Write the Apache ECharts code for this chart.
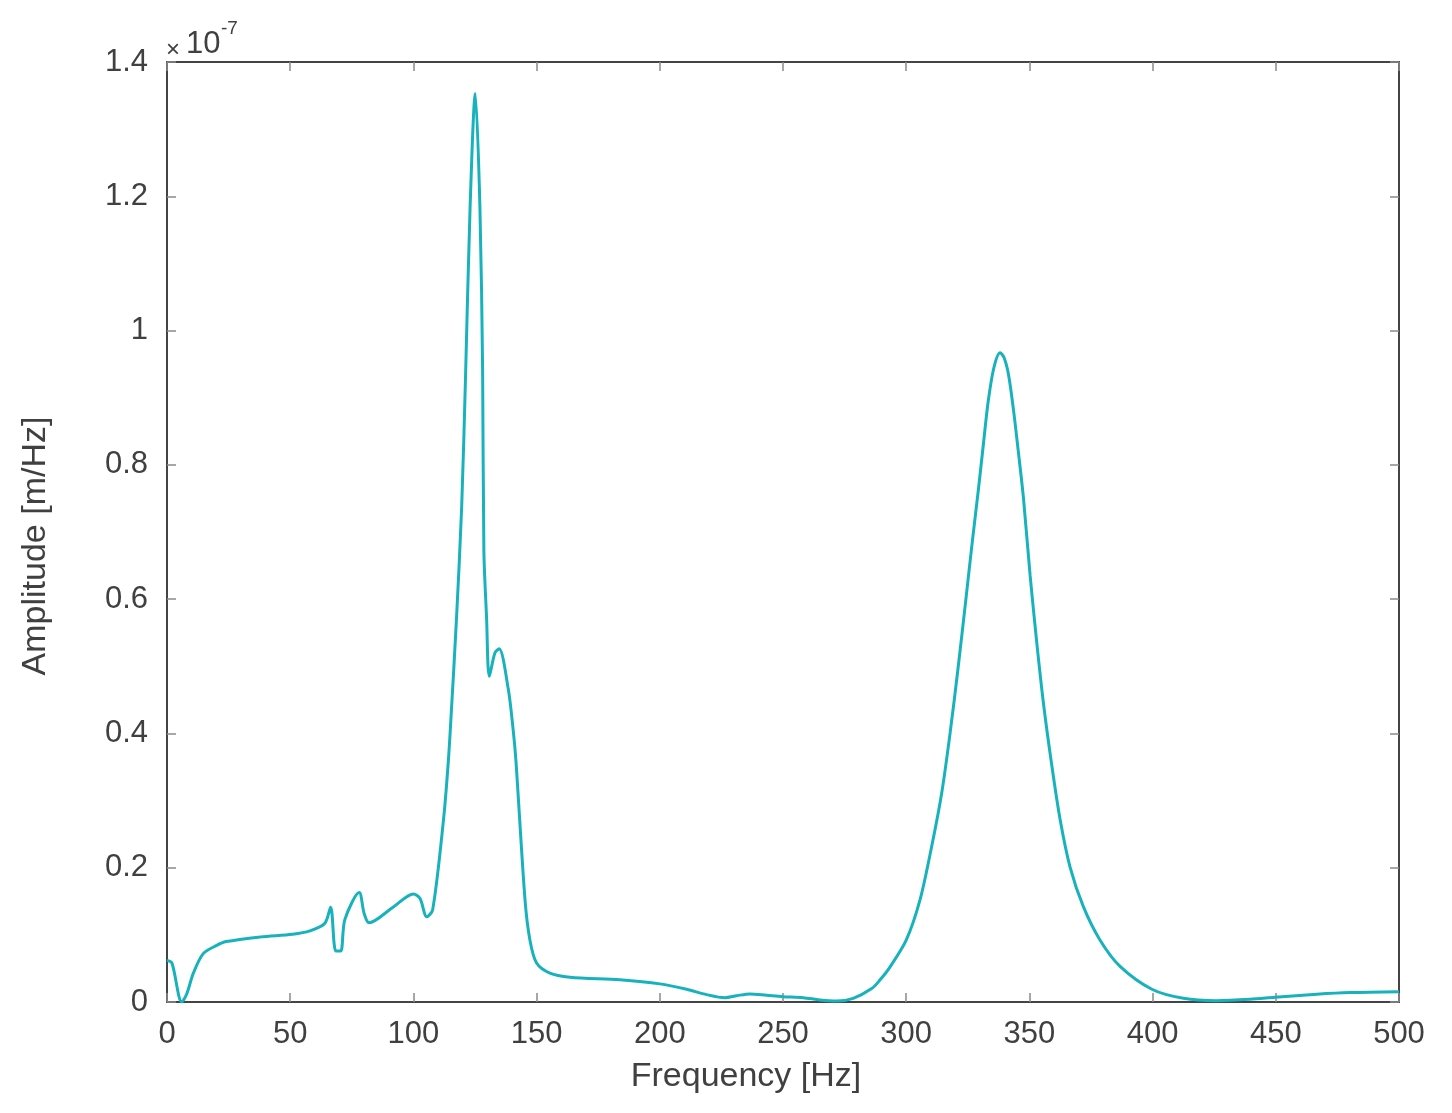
<!DOCTYPE html>
<html>
<head>
<meta charset="utf-8">
<script src="https://cdn.jsdelivr.net/npm/echarts@6/dist/echarts.min.js"></script>
<style>
  html, body { margin: 0; padding: 0; background: #fff; }
  #chart { width: 1452px; height: 1113px; }
</style>
</head>
<body>
<div id="chart"></div>
<script>
// frequency in Hz, amplitude in units of 1e-7 m/Hz (axis shows x10^-7)
const freq = [
  0, 2, 6, 8, 10.7, 14.7, 20, 24, 38, 51, 58, 64, 66.4, 68.5, 70.5, 72.2,
  78, 80, 82, 92, 100, 102.7, 105.4, 107.8, 112.2, 114.2, 115.5, 117.5, 119.6,
  121.2, 123, 125.1, 127, 128.1, 128.6, 129.7, 130.8, 133.1, 134.8, 138.5,
  140.5, 141.6, 145.3, 147.3, 150, 155.4, 163.5, 183.8, 200, 210.9, 219,
  226.4, 231.2, 236.6, 243.4, 250, 258.2, 265, 271.8, 278.5, 286, 289.4, 293.4,
  300, 305.6, 310.3, 314.4, 317.8, 321.1, 324.2, 326.9, 329.2, 331.3, 333.3,
  335.6, 338.1, 339.7, 341.5, 343.5, 345.5, 347.6, 350.3, 353, 355.7, 359.1,
  362.5, 366.5, 371.9, 378.7, 386.8, 399.7, 412.5, 426, 439.6, 449.7, 466.6, 480.2, 500
];
const amplitude = [
  0.062, 0.058, 0.0, 0.012, 0.043, 0.072, 0.084, 0.090, 0.097, 0.101, 0.106, 0.117, 0.141, 0.076, 0.076, 0.123,
  0.163, 0.132, 0.118, 0.142, 0.161, 0.154, 0.127, 0.137, 0.271, 0.36, 0.439, 0.572, 0.738,
  0.937, 1.183, 1.353, 1.183, 0.937, 0.672, 0.572, 0.485, 0.52, 0.526, 0.466,
  0.405, 0.36, 0.152, 0.092, 0.058, 0.043, 0.037, 0.033, 0.027, 0.019, 0.011,
  0.0065, 0.0094, 0.012, 0.010, 0.008, 0.0065, 0.003, 0.0015, 0.0055, 0.020, 0.033, 0.052,
  0.092, 0.152, 0.231, 0.311, 0.400, 0.499, 0.599, 0.688, 0.76, 0.83, 0.895,
  0.945, 0.967, 0.960, 0.935, 0.883, 0.82, 0.75, 0.635, 0.535, 0.445, 0.352,
  0.271, 0.201, 0.142, 0.092, 0.053, 0.019, 0.0055, 0.002, 0.004, 0.007, 0.0115, 0.014, 0.0153
];
const xTicks = [0, 500, 50];   // min, max, interval
const yTicks = [0, 1.4, 0.2];

const textColor = '#404040';
const lineColor = '#17b2bb';
const fontFamily = 'Liberation Sans, Arial, sans-serif';

const chart = echarts.init(document.getElementById('chart'));

const axisBase = {
  axisLine: { show: true, onZero: false, lineStyle: { color: '#444', width: 2 } },
  axisTick: { show: true, inside: true, length: 9, lineStyle: { color: '#8a8a8a', width: 1.5 } },
  splitLine: { show: false }
};

const option = {
  animation: false,
  backgroundColor: '#fff',
  grid: { left: 167, right: 53, top: 62, bottom: 111 },
  xAxis: [
    Object.assign({
      type: 'value', position: 'bottom',
      min: xTicks[0], max: xTicks[1], interval: xTicks[2],
      name: 'Frequency [Hz]', nameLocation: 'middle', nameGap: 58,
      nameTextStyle: { color: textColor, fontSize: 34, fontFamily: fontFamily, padding: [0, 74, 0, 0] },
      axisLabel: { color: textColor, fontSize: 31, fontFamily: fontFamily, margin: 17 }
    }, axisBase),
    Object.assign({
      type: 'value', position: 'top',
      min: xTicks[0], max: xTicks[1], interval: xTicks[2],
      axisLabel: { show: false }
    }, axisBase)
  ],
  yAxis: [
    Object.assign({
      type: 'value', position: 'left',
      min: yTicks[0], max: yTicks[1], interval: yTicks[2],
      name: 'Amplitude [m/Hz]', nameLocation: 'middle', nameGap: 114,
      nameTextStyle: { color: textColor, fontSize: 34, fontFamily: fontFamily, padding: [0, 28, 0, 0] },
      axisLabel: { color: textColor, fontSize: 31, fontFamily: fontFamily, margin: 19 }
    }, axisBase),
    Object.assign({
      type: 'value', position: 'right',
      min: yTicks[0], max: yTicks[1], interval: yTicks[2],
      axisLabel: { show: false }
    }, axisBase)
  ],
  // the x10^-7 exponent above the y axis
  graphic: [
    { type: 'text', left: 166, top: 38, style: { text: '×', fontSize: 24, fill: textColor, fontFamily: fontFamily } },
    { type: 'text', left: 186, top: 29, style: { text: '10', fontSize: 31, fill: textColor, fontFamily: fontFamily } },
    { type: 'text', left: 221, top: 19, style: { text: '-7', fontSize: 19, fill: textColor, fontFamily: fontFamily } }
  ],
  series: [{
    type: 'line',
    xAxisIndex: 0,
    yAxisIndex: 0,
    data: freq.map((f, i) => [f, amplitude[i]]),
    showSymbol: false,
    smooth: 0.3,
    lineStyle: { color: lineColor, width: 3 },
    itemStyle: { color: lineColor }
  }]
};

chart.setOption(option);
</script>
</body>
</html>
